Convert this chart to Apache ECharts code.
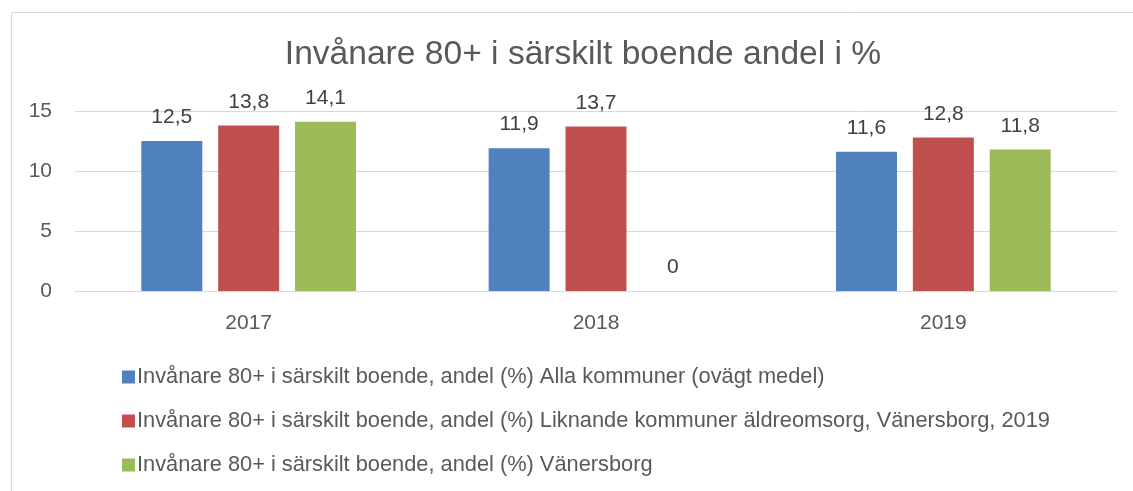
<!DOCTYPE html>
<html>
<head>
<meta charset="utf-8">
<script src="https://cdn.jsdelivr.net/npm/echarts@6/dist/echarts.min.js"></script>
<style>
  html, body { margin: 0; padding: 0; background: #fff; }
  #chart { width: 1133px; height: 491px; }
</style>
</head>
<body>
<div id="chart"></div>
<script>
var years = ['2017', '2018', '2019'];
var seriesNames = [
    'Invånare 80+ i särskilt boende, andel (%) Alla kommuner (ovägt medel)',
    'Invånare 80+ i särskilt boende, andel (%) Liknande kommuner äldreomsorg, Vänersborg, 2019',
    'Invånare 80+ i särskilt boende, andel (%) Vänersborg'
];
var allaKommuner = [12.5, 11.9, 11.6];
var liknandeKommuner = [13.8, 13.7, 12.8];
var vanersborg = [14.1, 0, 11.8];
var colors = ['#4F81BD', '#C0504D', '#9BBB59'];

var fontFamily = '"Liberation Sans", Arial, sans-serif';
var textColor = '#595959';

var myChart = echarts.init(document.getElementById('chart'));

function makeSeries(name, data, color) {
    return {
        name: name,
        type: 'bar',
        data: data,
        barWidth: 61,
        barGap: '26%',
        itemStyle: { color: color },
        label: {
            show: true,
            position: 'top',
            distance: 13,
            color: '#404040',
            fontFamily: fontFamily,
            fontSize: 21,
            formatter: function (p) {
                // decimal comma, as in the source
                return String(p.value).replace('.', ',');
            }
        }
    };
}

var option = {
    animation: false,
    textStyle: { fontFamily: fontFamily },
    color: colors,
    title: {
        text: 'Invånare 80+ i särskilt boende andel i %',
        left: 578,
        textAlign: 'center',
        top: 33,
        textStyle: {
            fontFamily: fontFamily,
            fontSize: 33.6,
            fontWeight: 'normal',
            color: textColor
        }
    },
    graphic: [{
        type: 'rect',
        shape: { x: 11.5, y: 12.5, width: 1140, height: 500 },
        style: { fill: 'none', stroke: '#d9d9d9', lineWidth: 1 },
        silent: true
    }],
    grid: {
        left: 75,
        right: 16,
        top: 111,
        bottom: 200
    },
    legend: {
        orient: 'vertical',
        left: 117,
        top: 361,
        itemWidth: 13,
        itemHeight: 13,
        itemGap: 22,
        icon: 'rect',
        textStyle: {
            fontFamily: fontFamily,
            fontSize: 21.8,
            color: textColor,
            padding: [0, 0, 0, -3]
        },
        data: seriesNames
    },
    xAxis: {
        type: 'category',
        data: years,
        axisLine: { lineStyle: { color: '#d9d9d9' } },
        axisTick: { show: false },
        axisLabel: {
            color: textColor,
            fontFamily: fontFamily,
            fontSize: 21,
            margin: 22
        }
    },
    yAxis: {
        type: 'value',
        min: 0,
        max: 15,
        interval: 5,
        axisLine: { show: false },
        axisTick: { show: false },
        splitLine: { lineStyle: { color: '#d9d9d9' } },
        axisLabel: {
            color: textColor,
            fontFamily: fontFamily,
            fontSize: 21,
            margin: 23
        }
    },
    series: [
        makeSeries(seriesNames[0], allaKommuner, colors[0]),
        makeSeries(seriesNames[1], liknandeKommuner, colors[1]),
        makeSeries(seriesNames[2], vanersborg, colors[2])
    ]
};

myChart.setOption(option);
</script>
</body>
</html>
